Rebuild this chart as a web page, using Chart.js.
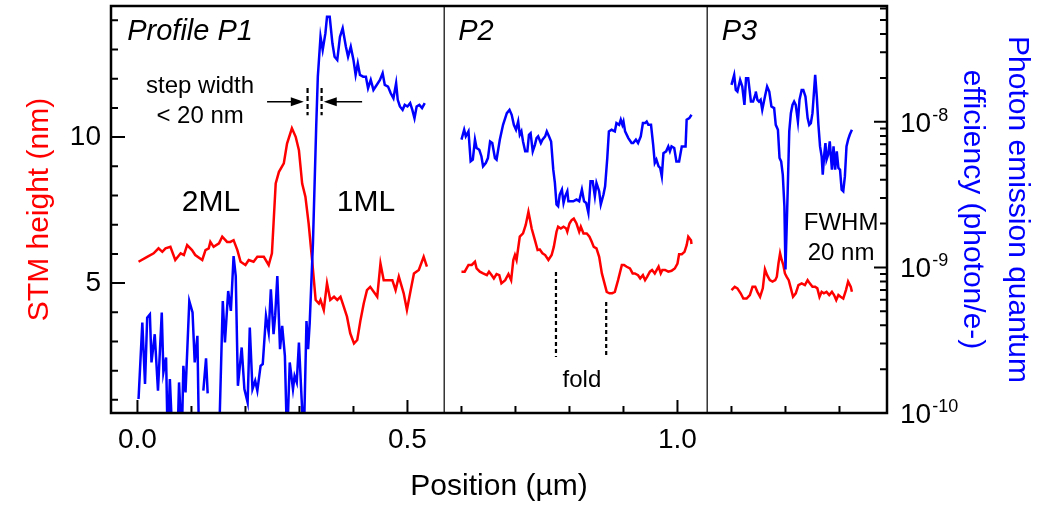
<!DOCTYPE html>
<html>
<head>
<meta charset="utf-8">
<title>STM height and photon emission profiles</title>
<script src="https://cdn.jsdelivr.net/npm/chart.js@4.4.0/dist/chart.umd.min.js"></script>
<style>
  html, body { margin: 0; padding: 0; background: #fff; }
  #wrap { width: 1048px; height: 505px; }
</style>
</head>
<body>
<div id="wrap"><canvas id="profileChart" width="1048" height="505"></canvas></div>
<script>
// ---- data (position in µm) ----
// STM height in nm, efficiency as log10(photon/e-); null = no data, -10.2 = below the axis

const p1HeightX = [0.002, 0.018, 0.030, 0.039, 0.046, 0.052, 0.061, 0.070, 0.080, 0.086, 0.092, 0.101, 0.107, 0.120, 0.126, 0.132, 0.135, 0.141, 0.151, 0.157, 0.166, 0.172, 0.178, 0.185, 0.191, 0.200, 0.206, 0.215, 0.222, 0.234, 0.243, 0.249, 0.252, 0.256, 0.262, 0.271, 0.277, 0.286, 0.293, 0.299, 0.305, 0.311, 0.317, 0.324, 0.330, 0.336, 0.339, 0.345, 0.351, 0.357, 0.364, 0.370, 0.376, 0.382, 0.388, 0.394, 0.401, 0.407, 0.413, 0.419, 0.425, 0.431, 0.444, 0.450, 0.456, 0.462, 0.472, 0.478, 0.484, 0.493, 0.499, 0.506, 0.512, 0.521, 0.530, 0.536];
const p1Height = [5.73, 5.90, 6.02, 6.19, 6.07, 6.19, 6.24, 5.79, 6.02, 5.96, 6.30, 6.13, 5.96, 5.79, 6.13, 6.19, 6.41, 6.24, 6.36, 6.59, 6.41, 6.41, 6.47, 6.13, 5.73, 5.62, 5.79, 5.73, 5.90, 5.90, 5.62, 6.02, 7.04, 8.41, 8.81, 9.10, 9.78, 10.30, 10.01, 9.55, 8.41, 7.96, 7.04, 5.67, 4.42, 4.30, 4.42, 4.08, 4.99, 4.42, 4.53, 4.42, 4.53, 4.19, 3.85, 3.28, 2.93, 3.05, 3.73, 4.30, 4.76, 4.87, 4.53, 5.67, 5.10, 5.10, 5.10, 4.76, 5.22, 4.65, 4.08, 4.76, 5.33, 5.45, 5.90, 5.56];

const p1EffX = [0.002, 0.009, 0.014, 0.018, 0.023, 0.026, 0.032, 0.038, 0.045, 0.048, 0.053, 0.056, 0.060, 0.065, 0.074, 0.077, 0.082, 0.085, 0.089, 0.096, 0.102, 0.106, 0.111, 0.114, 0.118, 0.122, 0.127, 0.130, 0.140, 0.151, 0.158, 0.162, 0.168, 0.173, 0.178, 0.182, 0.186, 0.193, 0.198, 0.204, 0.208, 0.213, 0.218, 0.222, 0.228, 0.232, 0.238, 0.243, 0.247, 0.252, 0.255, 0.259, 0.264, 0.268, 0.273, 0.277, 0.282, 0.288, 0.291, 0.295, 0.299, 0.304, 0.308, 0.313, 0.316, 0.319, 0.325, 0.331, 0.334, 0.339, 0.343, 0.348, 0.351, 0.356, 0.361, 0.365, 0.370, 0.375, 0.380, 0.386, 0.390, 0.395, 0.400, 0.404, 0.408, 0.412, 0.418, 0.423, 0.427, 0.432, 0.437, 0.443, 0.449, 0.454, 0.458, 0.464, 0.469, 0.474, 0.479, 0.482, 0.486, 0.491, 0.495, 0.500, 0.505, 0.509, 0.513, 0.517, 0.522, 0.527, 0.532];
const p1EffLog = [-9.904, -9.379, -9.801, -9.345, -9.322, -9.653, -9.459, -9.847, -9.310, -9.721, -9.619, -10.2, -9.767, -10.2, -10.2, -9.790, -10.2, -9.676, -9.858, -9.231, -9.310, -9.653, -9.470, -10.2, null, -9.847, -9.625, -9.865, null, -10.2, -9.231, -9.516, -9.162, -9.299, -8.923, -9.060, -9.813, -9.550, -9.836, -9.927, -9.413, -9.836, -9.779, -9.847, -9.676, -9.664, -9.333, -9.447, -9.151, -9.459, -9.333, -9.060, -9.562, -9.402, -9.607, -10.2, -9.653, -9.836, -9.745, -9.790, -9.516, -9.904, -10.2, -9.368, -9.562, -9.379, -8.83, -8.032, -7.69, -7.416, -7.507, -7.393, -7.279, -7.279, -7.461, -7.553, -7.575, -7.416, -7.358, -7.484, -7.553, -7.484, -7.575, -7.678, -7.598, -7.678, -7.690, -7.690, -7.769, -7.712, -7.781, -7.747, -7.712, -7.666, -7.747, -7.758, -7.804, -7.838, -7.735, -7.849, -7.895, -7.918, -7.884, -7.895, -7.872, -7.918, -7.975, -7.895, -7.884, -7.906, -7.872];

const p2HeightX = [0.600, 0.606, 0.613, 0.619, 0.625, 0.628, 0.634, 0.640, 0.647, 0.651, 0.656, 0.660, 0.665, 0.670, 0.674, 0.681, 0.687, 0.692, 0.696, 0.699, 0.702, 0.708, 0.714, 0.719, 0.724, 0.727, 0.730, 0.736, 0.741, 0.745, 0.750, 0.755, 0.761, 0.767, 0.771, 0.776, 0.779, 0.784, 0.789, 0.794, 0.796, 0.800, 0.804, 0.808, 0.813, 0.818, 0.821, 0.826, 0.832, 0.837, 0.841, 0.845, 0.850, 0.855, 0.860, 0.864, 0.869, 0.874, 0.879, 0.884, 0.890, 0.897, 0.901, 0.906, 0.912, 0.917, 0.921, 0.927, 0.931, 0.936, 0.940, 0.944, 0.949, 0.953, 0.958, 0.965, 0.969, 0.972, 0.977, 0.983, 0.989, 0.995, 1.000, 1.003, 1.008, 1.013, 1.017, 1.020, 1.025, 1.026];
const p2Height = [5.39, 5.39, 5.62, 5.62, 5.73, 5.50, 5.39, 5.33, 5.27, 5.39, 5.27, 5.16, 5.31, 5.27, 4.99, 5.10, 5.31, 5.10, 5.79, 5.96, 5.79, 6.59, 6.70, 6.99, 7.44, 7.16, 6.87, 6.47, 6.13, 6.15, 6.02, 5.96, 5.79, 5.96, 6.24, 6.76, 6.93, 6.87, 6.93, 6.87, 6.76, 7.04, 7.16, 7.21, 7.04, 6.76, 6.93, 6.70, 6.70, 6.59, 6.42, 6.24, 6.19, 5.90, 5.33, 5.05, 4.70, 4.65, 4.65, 4.70, 5.10, 5.62, 5.62, 5.56, 5.50, 5.33, 5.33, 5.27, 5.16, 5.27, 5.10, 5.22, 5.39, 5.45, 5.33, 5.56, 5.33, 5.45, 5.45, 5.39, 5.42, 5.50, 5.67, 5.99, 5.99, 6.07, 6.30, 6.59, 6.47, 6.34];

const p2EffX = [0.600, 0.605, 0.608, 0.613, 0.617, 0.621, 0.625, 0.628, 0.633, 0.637, 0.640, 0.645, 0.649, 0.653, 0.657, 0.662, 0.665, 0.671, 0.677, 0.684, 0.689, 0.693, 0.697, 0.701, 0.705, 0.708, 0.711, 0.714, 0.718, 0.722, 0.725, 0.728, 0.732, 0.736, 0.739, 0.742, 0.747, 0.750, 0.755, 0.758, 0.762, 0.766, 0.770, 0.773, 0.776, 0.779, 0.782, 0.786, 0.789, 0.792, 0.796, 0.798, 0.802, 0.807, 0.813, 0.818, 0.823, 0.827, 0.831, 0.835, 0.839, 0.843, 0.847, 0.850, 0.855, 0.858, 0.863, 0.866, 0.870, 0.873, 0.878, 0.884, 0.887, 0.892, 0.895, 0.898, 0.900, 0.903, 0.909, 0.915, 0.918, 0.923, 0.927, 0.932, 0.936, 0.940, 0.943, 0.946, 0.951, 0.955, 0.958, 0.961, 0.965, 0.968, 0.971, 0.974, 0.979, 0.983, 0.986, 0.989, 0.994, 0.998, 1.003, 1.008, 1.012, 1.015, 1.017, 1.022, 1.026];
const p2EffLog = [-8.123, -8.055, -8.100, -8.066, -8.272, -8.260, -8.123, -8.180, -8.192, -8.238, -8.306, -8.283, -8.249, -8.135, -8.146, -8.249, -8.260, -8.123, -8.021, -7.941, -7.918, -7.952, -8.021, -8.055, -7.998, -8.089, -8.066, -8.135, -8.203, -8.203, -8.089, -8.078, -8.203, -8.158, -8.112, -8.100, -8.146, -8.123, -8.100, -8.066, -8.100, -8.135, -8.329, -8.420, -8.568, -8.580, -8.500, -8.466, -8.557, -8.512, -8.477, -8.546, -8.546, -8.546, -8.534, -8.546, -8.466, -8.546, -8.557, -8.625, -8.409, -8.409, -8.512, -8.420, -8.477, -8.568, -8.500, -8.443, -8.249, -8.066, -8.055, -8.066, -8.009, -8.021, -7.986, -8.021, -7.998, -8.066, -8.112, -8.146, -8.146, -8.123, -8.146, -8.100, -8.009, -8.009, -7.998, -8.021, -8.021, -8.158, -8.283, -8.260, -8.306, -8.317, -8.375, -8.215, -8.203, -8.169, -8.203, -8.169, -8.180, -8.272, -8.272, -8.169, -8.169, -8.169, -7.986, -7.975, -7.952];

const p3HeightX = [1.100, 1.106, 1.111, 1.117, 1.122, 1.128, 1.134, 1.139, 1.144, 1.148, 1.153, 1.158, 1.162, 1.166, 1.171, 1.176, 1.181, 1.184, 1.187, 1.190, 1.193, 1.196, 1.199, 1.202, 1.206, 1.210, 1.214, 1.219, 1.224, 1.230, 1.236, 1.241, 1.245, 1.250, 1.255, 1.259, 1.263, 1.267, 1.271, 1.276, 1.281, 1.286, 1.290, 1.294, 1.298, 1.302, 1.307, 1.312, 1.316, 1.321, 1.323];
const p3Height = [4.76, 4.87, 4.82, 4.65, 4.47, 4.47, 4.59, 4.87, 4.87, 4.70, 4.53, 4.82, 5.47, 5.27, 5.10, 5.05, 5.10, 5.22, 5.67, 6.02, 5.79, 5.62, 5.33, 5.22, 5.10, 4.82, 4.53, 4.65, 4.93, 4.99, 4.93, 5.10, 4.99, 4.87, 4.87, 4.82, 4.53, 4.70, 4.65, 4.70, 4.59, 4.70, 4.59, 4.42, 4.59, 4.53, 4.47, 4.76, 5.05, 4.87, 4.70];

const p3EffX = [1.100, 1.105, 1.108, 1.111, 1.116, 1.120, 1.124, 1.127, 1.131, 1.136, 1.140, 1.144, 1.145, 1.148, 1.151, 1.154, 1.157, 1.162, 1.166, 1.170, 1.174, 1.179, 1.182, 1.186, 1.189, 1.192, 1.195, 1.198, 1.200, 1.204, 1.207, 1.210, 1.213, 1.216, 1.219, 1.223, 1.226, 1.230, 1.233, 1.237, 1.241, 1.244, 1.247, 1.250, 1.255, 1.258, 1.261, 1.264, 1.267, 1.269, 1.272, 1.274, 1.276, 1.279, 1.282, 1.286, 1.289, 1.292, 1.295, 1.298, 1.301, 1.304, 1.307, 1.310, 1.313, 1.316, 1.319, 1.323];
const p3EffLog = [-7.747, -7.678, -7.781, -7.792, -7.712, -7.758, -7.884, -7.701, -7.701, -7.861, -7.861, -7.815, -7.792, -7.849, -7.861, -7.849, -7.918, -7.827, -7.758, -7.792, -7.895, -7.906, -8.021, -8.055, -8.249, -8.272, -8.363, -8.580, -9.014, -8.489, -8.066, -7.941, -7.884, -7.861, -7.884, -7.998, -7.849, -7.781, -7.781, -7.827, -7.975, -8.021, -8.009, -7.941, -7.678, -7.827, -8.021, -8.169, -8.238, -8.363, -8.215, -8.146, -8.260, -8.226, -8.135, -8.329, -8.169, -8.329, -8.203, -8.317, -8.329, -8.466, -8.477, -8.375, -8.169, -8.123, -8.089, -8.055];

// axis ticks
const xTicks = [0, 0.1, 0.2, 0.3, 0.4, 0.5, 0.6, 0.7, 0.8, 0.9, 1.0, 1.1, 1.2, 1.3];
const xLabelTicks = [0, 0.5, 1.0];
const heightTicks = [1, 2, 3, 4, 5, 6, 7, 8, 9, 10, 11, 12, 13, 14];
const heightLabelTicks = [5, 10];
const effDecades = [1e-10, 1e-9, 1e-8];
const profileBreaks = [0.568, 1.055];

const FONT = "'Liberation Sans', Arial, Helvetica, sans-serif";
const RED = '#ff0000';
const BLUE = '#0000ff';

function toPoints(xs, ys) {
  return xs.map((x, i) => ({ x: x, y: ys[i] }));
}
function fromLog(vals) {
  return vals.map(v => v === null ? null : Math.pow(10, v));
}

function lineSet(label, xs, ys, axis, color) {
  return {
    label: label,
    data: toPoints(xs, ys),
    yAxisID: axis,
    borderColor: color,
    backgroundColor: color,
    borderWidth: 2.5,
    pointRadius: 0,
    tension: 0,
    spanGaps: false,
    fill: false
  };
}

// keep the plot box fixed: no extra padding from the tick labels
function fixBox(s, w, h) {
  if (w) s.width = w;
  if (h) s.height = h;
  s.paddingTop = 0;
  s.paddingBottom = 0;
  s.paddingLeft = 0;
  s.paddingRight = 0;
}

// inward tick marks, profile separators and the frame
const axesFrame = {
  id: 'axesFrame',
  afterDatasetsDraw(chart) {
    const { ctx, chartArea: a } = chart;
    const x = chart.scales.x, yH = chart.scales.yHeight, yE = chart.scales.yEff;
    ctx.save();
    ctx.strokeStyle = '#000';
    ctx.lineWidth = 1.2;
    ctx.beginPath();
    profileBreaks.forEach(v => {
      const px = x.getPixelForValue(v);
      ctx.moveTo(px, a.top);
      ctx.lineTo(px, a.bottom);
    });
    ctx.stroke();

    ctx.lineWidth = 2;
    ctx.beginPath();
    xTicks.forEach(v => {
      const px = x.getPixelForValue(v);
      const len = xLabelTicks.includes(v) ? 13 : 7;
      ctx.moveTo(px, a.bottom);
      ctx.lineTo(px, a.bottom - len);
    });
    heightTicks.forEach(v => {
      const py = yH.getPixelForValue(v);
      const len = heightLabelTicks.includes(v) ? 14 : 7;
      ctx.moveTo(a.left, py);
      ctx.lineTo(a.left + len, py);
    });
    effDecades.forEach(d => {
      let py = yE.getPixelForValue(d);
      ctx.moveTo(a.right, py);
      ctx.lineTo(a.right - 13, py);
      for (let m = 2; m <= 9; m++) {
        if (m * d > yE.max) break;
        py = yE.getPixelForValue(m * d);
        ctx.moveTo(a.right, py);
        ctx.lineTo(a.right - 7, py);
      }
    });
    ctx.stroke();

    ctx.lineWidth = 2.5;
    ctx.strokeRect(a.left, a.top, a.right - a.left, a.bottom - a.top);
    ctx.restore();
  }
};

function arrow(ctx, x1, x2, y) {
  const dir = Math.sign(x2 - x1);
  ctx.beginPath();
  ctx.moveTo(x1, y);
  ctx.lineTo(x2 - dir * 6, y);
  ctx.stroke();
  ctx.beginPath();
  ctx.moveTo(x2, y);
  ctx.lineTo(x2 - dir * 13, y - 4.5);
  ctx.lineTo(x2 - dir * 13, y + 4.5);
  ctx.closePath();
  ctx.fill();
}

function dashed(ctx, px, y1, y2) {
  ctx.beginPath();
  ctx.moveTo(px, y1);
  ctx.lineTo(px, y2);
  ctx.stroke();
}

// right axis decade labels and the text annotations
const annotations = {
  id: 'annotations',
  afterDraw(chart) {
    const { ctx, chartArea: a } = chart;
    const x = chart.scales.x, yH = chart.scales.yHeight, yE = chart.scales.yEff;
    const X = v => x.getPixelForValue(v);
    const Y = v => yH.getPixelForValue(v);
    ctx.save();
    ctx.fillStyle = '#000';
    ctx.strokeStyle = '#000';
    ctx.textBaseline = 'alphabetic';

    effDecades.forEach(d => {
      const py = yE.getPixelForValue(d);
      const bx = a.right + 13;
      ctx.textAlign = 'left';
      ctx.font = '28px ' + FONT;
      ctx.fillText('10', bx, py + 10);
      const w = ctx.measureText('10').width;
      ctx.font = '18px ' + FONT;
      ctx.fillText(String(Math.round(Math.log10(d))), bx + w + 1, py - 1);
    });

    ctx.textAlign = 'left';
    ctx.font = 'italic 29px ' + FONT;
    ctx.fillText('Profile P1', X(-0.019), Y(13.32));
    ctx.fillText('P2', X(0.594), Y(13.32));
    ctx.fillText('P3', X(1.082), Y(13.32));

    ctx.textAlign = 'center';
    ctx.font = '24px ' + FONT;
    ctx.fillText('step width', X(0.116), Y(11.51));
    ctx.fillText('< 20 nm', X(0.116), Y(10.48));
    ctx.fillText('fold', X(0.823), Y(1.44));
    ctx.fillText('FWHM', X(1.303), Y(6.82));
    ctx.fillText('20 nm', X(1.303), Y(5.79));

    ctx.font = '30px ' + FONT;
    ctx.fillText('2ML', X(0.136), Y(7.47));
    ctx.fillText('1ML', X(0.423), Y(7.47));

    ctx.lineWidth = 1.5;
    arrow(ctx, X(0.240), X(0.308), Y(11.21));
    arrow(ctx, X(0.416), X(0.345), Y(11.21));

    ctx.lineWidth = 2.2;
    ctx.setLineDash([5, 3]);
    dashed(ctx, X(0.315), Y(11.68), Y(10.75));
    dashed(ctx, X(0.341), Y(11.68), Y(10.75));
    ctx.setLineDash([4, 3]);
    dashed(ctx, X(0.775), Y(5.38), Y(2.47));
    dashed(ctx, X(0.868), Y(4.35), Y(2.47));
    ctx.restore();
  }
};

const ctx = document.getElementById('profileChart').getContext('2d');
const profileChart = new Chart(ctx, {
  type: 'line',
  data: {
    datasets: [
      lineSet('P1 efficiency', p1EffX, fromLog(p1EffLog), 'yEff', BLUE),
      lineSet('P2 efficiency', p2EffX, fromLog(p2EffLog), 'yEff', BLUE),
      lineSet('P3 efficiency', p3EffX, fromLog(p3EffLog), 'yEff', BLUE),
      lineSet('P1 height', p1HeightX, p1Height, 'yHeight', RED),
      lineSet('P2 height', p2HeightX, p2Height, 'yHeight', RED),
      lineSet('P3 height', p3HeightX, p3Height, 'yHeight', RED)
    ]
  },
  options: {
    responsive: false,
    animation: false,
    devicePixelRatio: 1,
    layout: { autoPadding: false, padding: { top: 6, left: 0, right: 0, bottom: 0 } },
    plugins: {
      legend: { display: false },
      tooltip: { enabled: false }
    },
    scales: {
      x: {
        type: 'linear',
        min: -0.049,
        max: 1.388,
        grid: { display: false, drawTicks: false },
        border: { display: false },
        afterBuildTicks: s => { s.ticks = xTicks.map(v => ({ value: v })); },
        afterFit: s => fixBox(s, 0, 92),
        ticks: {
          autoSkip: false,
          maxRotation: 0,
          padding: 10,
          color: '#000',
          font: { family: FONT, size: 28 },
          callback: v => xLabelTicks.includes(v) ? v.toFixed(1) : ''
        },
        title: {
          display: true,
          text: 'Position (µm)',
          color: '#000',
          font: { family: FONT, size: 30, lineHeight: 1.2 },
          padding: { top: 0, bottom: 0 }
        }
      },
      yHeight: {
        type: 'linear',
        position: 'left',
        min: 0.55,
        max: 14.49,
        grid: { display: false, drawTicks: false },
        border: { display: false },
        afterBuildTicks: s => { s.ticks = heightTicks.map(v => ({ value: v })); },
        afterFit: s => fixBox(s, 111, 0),
        ticks: {
          autoSkip: false,
          padding: 10,
          color: '#000',
          font: { family: FONT, size: 28 },
          callback: v => heightLabelTicks.includes(v) ? String(v) : ''
        },
        title: {
          display: true,
          text: 'STM height (nm)',
          color: RED,
          font: { family: FONT, size: 30, lineHeight: 1.2 },
          padding: { top: 22, bottom: 0 }
        }
      },
      yEff: {
        type: 'logarithmic',
        position: 'right',
        min: 1e-10,
        max: 6.24e-8,
        grid: { display: false, drawTicks: false },
        border: { display: false },
        afterFit: s => fixBox(s, 161, 0),
        ticks: { display: false },
        title: {
          display: true,
          text: ['Photon emission quantum', 'efficiency (photon/e-)'],
          color: BLUE,
          font: { family: FONT, size: 30, lineHeight: 1.5 },
          padding: { top: 8, bottom: 0 }
        }
      }
    }
  },
  plugins: [axesFrame, annotations]
});
</script>
</body>
</html>
